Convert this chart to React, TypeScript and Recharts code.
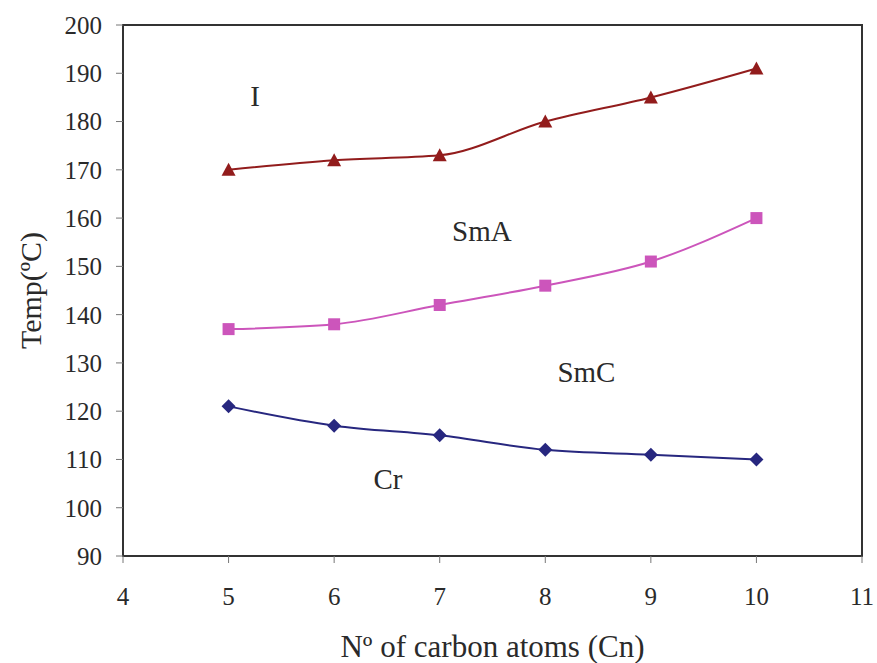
import {
  LineChart,
  Line,
  XAxis,
  YAxis,
  ReferenceArea,
  ReferenceDot,
} from "recharts";

const carbonAtoms = [5, 6, 7, 8, 9, 10];
const isoTemps = [170, 172, 173, 180, 185, 191];
const smaTemps = [137, 138, 142, 146, 151, 160];
const crTemps = [121, 117, 115, 112, 111, 110];

const xTicks = [4, 5, 6, 7, 8, 9, 10, 11];
const yTicks = [90, 100, 110, 120, 130, 140, 150, 160, 170, 180, 190, 200];

// phase names placed in data space
const phaseLabels = [
  { text: "I", x: 5.25, y: 185.3 },
  { text: "SmA", x: 7.4, y: 157.3 },
  { text: "SmC", x: 8.39, y: 128.2 },
  { text: "Cr", x: 6.51, y: 106 },
];

const data = carbonAtoms.map((n, i) => ({
  n,
  iso: isoTemps[i],
  sma: smaTemps[i],
  cr: crTemps[i],
}));

const font = "'Liberation Serif', 'Times New Roman', serif";

const Triangle = (props: any) => {
  const { cx, cy, fill } = props;
  if (cx == null || cy == null) return null;
  return (
    <path
      d={`M${cx},${cy - 7} L${cx + 7},${cy + 6} L${cx - 7},${cy + 6} Z`}
      fill={fill}
    />
  );
};

const Square = (props: any) => {
  const { cx, cy, fill } = props;
  if (cx == null || cy == null) return null;
  return <rect x={cx - 6} y={cy - 6} width={12} height={12} fill={fill} />;
};

const Diamond = (props: any) => {
  const { cx, cy, fill } = props;
  if (cx == null || cy == null) return null;
  return (
    <path
      d={`M${cx},${cy - 7} L${cx + 7},${cy} L${cx},${cy + 7} L${cx - 7},${cy} Z`}
      fill={fill}
    />
  );
};

const tickStyle = { fontSize: 25, fill: "#2a2a2a", fontFamily: font };

export default function App() {
  return (
    <div
      style={{
        position: "absolute",
        left: 0,
        top: 0,
        background: "#fff",
        fontFamily: font,
      }}
    >
      <LineChart
        width={877}
        height={663}
        data={data}
        margin={{ top: 25, right: 15, bottom: 0, left: 0 }}
      >
        <XAxis
          dataKey="n"
          type="number"
          domain={[4, 11]}
          ticks={xTicks}
          tick={tickStyle}
          tickSize={7}
          tickMargin={24}
          axisLine={{ stroke: "#333", strokeWidth: 2 }}
          tickLine={{ stroke: "#777" }}
          height={107}
          label={{
            value: "Nº of carbon atoms (Cn)",
            position: "insideBottom",
            offset: 6,
            style: { fontSize: 31, fill: "#2a2a2a", fontFamily: font },
          }}
        />
        <YAxis
          type="number"
          domain={[90, 200]}
          ticks={yTicks}
          tick={tickStyle}
          tickSize={7}
          tickMargin={14}
          axisLine={{ stroke: "#333", strokeWidth: 2 }}
          tickLine={{ stroke: "#777" }}
          width={123}
          label={{
            value: "Temp(ºC)",
            angle: -90,
            position: "insideLeft",
            offset: 30,
            style: {
              fontSize: 30,
              fill: "#2a2a2a",
              fontFamily: font,
              textAnchor: "middle",
            },
          }}
        />
        <ReferenceArea
          x1={4}
          x2={11}
          y1={90}
          y2={200}
          fill="none"
          stroke="#333"
          strokeWidth={2}
          ifOverflow="visible"
        />
        {phaseLabels.map((p) => (
          <ReferenceDot
            key={p.text}
            x={p.x}
            y={p.y}
            r={0}
            stroke="none"
            fill="none"
            label={{
              value: p.text,
              position: "center",
              style: { fontSize: 29, fill: "#2a2a2a", fontFamily: font },
            }}
          />
        ))}
        <Line
          type="monotone"
          dataKey="iso"
          stroke="#921c1c"
          strokeWidth={2}
          dot={<Triangle fill="#921c1c" />}
          isAnimationActive={false}
        />
        <Line
          type="monotone"
          dataKey="sma"
          stroke="#cc55bb"
          strokeWidth={2}
          dot={<Square fill="#cc55bb" />}
          isAnimationActive={false}
        />
        <Line
          type="monotone"
          dataKey="cr"
          stroke="#27277f"
          strokeWidth={2}
          dot={<Diamond fill="#27277f" />}
          isAnimationActive={false}
        />
      </LineChart>
    </div>
  );
}
